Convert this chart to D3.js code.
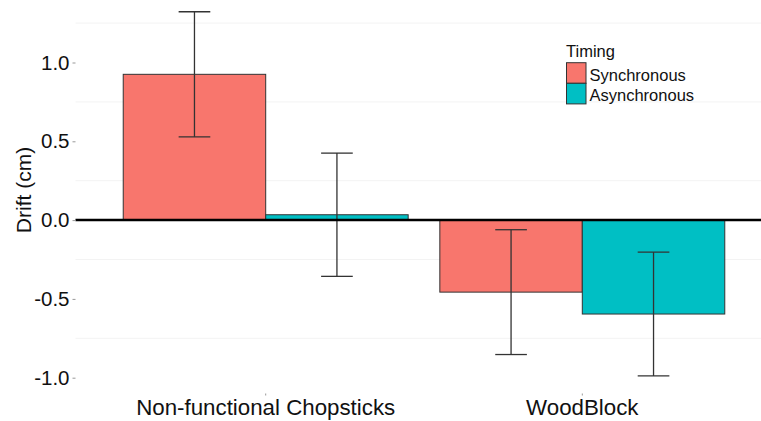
<!DOCTYPE html>
<html>
<head>
<meta charset="utf-8">
<script src="https://cdn.jsdelivr.net/npm/d3@7"></script>
<style>
  html, body { margin: 0; padding: 0; background: #fff; }
  svg { display: block; font-family: "Liberation Sans", Arial, sans-serif; }
</style>
</head>
<body>
<svg id="chart" width="761" height="421"></svg>
<script>
// Drift by object and timing condition
const objects = ["Non-functional Chopsticks", "WoodBlock"];
const timings = ["Synchronous", "Asynchronous"];
const syncMeans = [0.925, -0.457];
const asyncMeans = [0.034, -0.596];
const syncErrors = [0.397, 0.396];
const asyncErrors = [0.391, 0.393];
const yTicks = [-1.0, -0.5, 0.0, 0.5, 1.0];
const yMinorTicks = [-0.75, -0.25, 0.25, 0.75, 1.25];
const colors = ["#F8766D", "#00BFC4"];

const rows = [];
objects.forEach((obj, i) => {
  rows.push({ object: obj, timing: timings[0], mean: syncMeans[i], se: syncErrors[i] });
  rows.push({ object: obj, timing: timings[1], mean: asyncMeans[i], se: asyncErrors[i] });
});

const svg = d3.select("#chart");
const panelLeft = 75.5, panelRight = 761, panelBottom = 393.5;
const fontFam = "Liberation Sans, Arial, sans-serif";

const y = d3.scaleLinear().domain([-1, 1]).range([377.7, 62.5]);
const x = d3.scaleBand().domain(objects).range([107.4, 740.6]).padding(0);
const groupW = x.bandwidth() * 0.9;
const xi = d3.scaleBand().domain(timings).range([-groupW / 2, groupW / 2]);
const color = d3.scaleOrdinal().domain(timings).range(colors);

// faint minor gridlines
svg.append("g").selectAll("line").data(yMinorTicks).join("line")
  .attr("x1", panelLeft).attr("x2", panelRight)
  .attr("y1", d => y(d)).attr("y2", d => y(d))
  .attr("stroke", "#f3f3f3").attr("stroke-width", 1);

// bars
const cx = d => x(d.object) + x.bandwidth() / 2;
svg.append("g").selectAll("rect").data(rows).join("rect")
  .attr("x", d => cx(d) + xi(d.timing))
  .attr("width", xi.bandwidth())
  .attr("y", d => y(Math.max(0, d.mean)))
  .attr("height", d => Math.abs(y(d.mean) - y(0)))
  .attr("fill", d => color(d.timing))
  .attr("stroke", "#333").attr("stroke-width", 1);

// error bars
const capW = x.bandwidth() * 0.1;
const eb = svg.append("g").attr("stroke", "#333").attr("stroke-width", 1.3).attr("fill", "none");
rows.forEach(d => {
  const c = cx(d) + xi(d.timing) + xi.bandwidth() / 2;
  const top = y(d.mean + d.se), bot = y(d.mean - d.se);
  eb.append("line").attr("x1", c).attr("x2", c).attr("y1", top).attr("y2", bot);
  eb.append("line").attr("x1", c - capW / 2).attr("x2", c + capW / 2).attr("y1", top).attr("y2", top);
  eb.append("line").attr("x1", c - capW / 2).attr("x2", c + capW / 2).attr("y1", bot).attr("y2", bot);
});

// zero reference line
svg.append("line")
  .attr("x1", panelLeft).attr("x2", panelRight)
  .attr("y1", y(0)).attr("y2", y(0))
  .attr("stroke", "#000").attr("stroke-width", 2.5);

// y axis (plain hyphen for negatives)
const yAxis = svg.append("g").attr("transform", `translate(${panelLeft},0)`)
  .call(d3.axisLeft(y).tickValues(yTicks).tickFormat(d => d.toFixed(1)).tickSize(3).tickPadding(3));
yAxis.select(".domain").remove();
yAxis.selectAll(".tick line").attr("stroke", "#999");
yAxis.selectAll(".tick text").attr("font-size", 20.5).attr("fill", "#111")
  .attr("font-family", fontFam);

// x axis
const xAxis = svg.append("g").attr("transform", `translate(0,${panelBottom})`)
  .call(d3.axisBottom(x).tickSize(2).tickPadding(4));
xAxis.select(".domain").remove();
xAxis.selectAll(".tick line").attr("stroke", "#999");
xAxis.selectAll(".tick text").attr("font-size", 22.3).attr("fill", "#111")
  .attr("font-family", fontFam);

// y axis title
svg.append("text")
  .attr("transform", "translate(31,190) rotate(-90)")
  .attr("text-anchor", "middle")
  .attr("font-size", 21).attr("fill", "#111")
  .attr("font-family", fontFam)
  .text("Drift (cm)");

// legend
const legend = svg.append("g").attr("transform", "translate(566,0)");
legend.append("text").attr("x", 0).attr("y", 57).attr("font-size", 16.5).attr("fill", "#111").text("Timing");
timings.forEach((t, i) => {
  const top = 62.7 + i * 20.6;
  legend.append("rect").attr("x", 0.5).attr("y", top).attr("width", 19.5).attr("height", 20.6)
    .attr("fill", color(t)).attr("stroke", "#333").attr("stroke-width", 1);
  legend.append("text").attr("x", 23.5).attr("y", top + 17.8).attr("font-size", 16.5).attr("fill", "#111").text(t);
});
</script>
</body>
</html>
